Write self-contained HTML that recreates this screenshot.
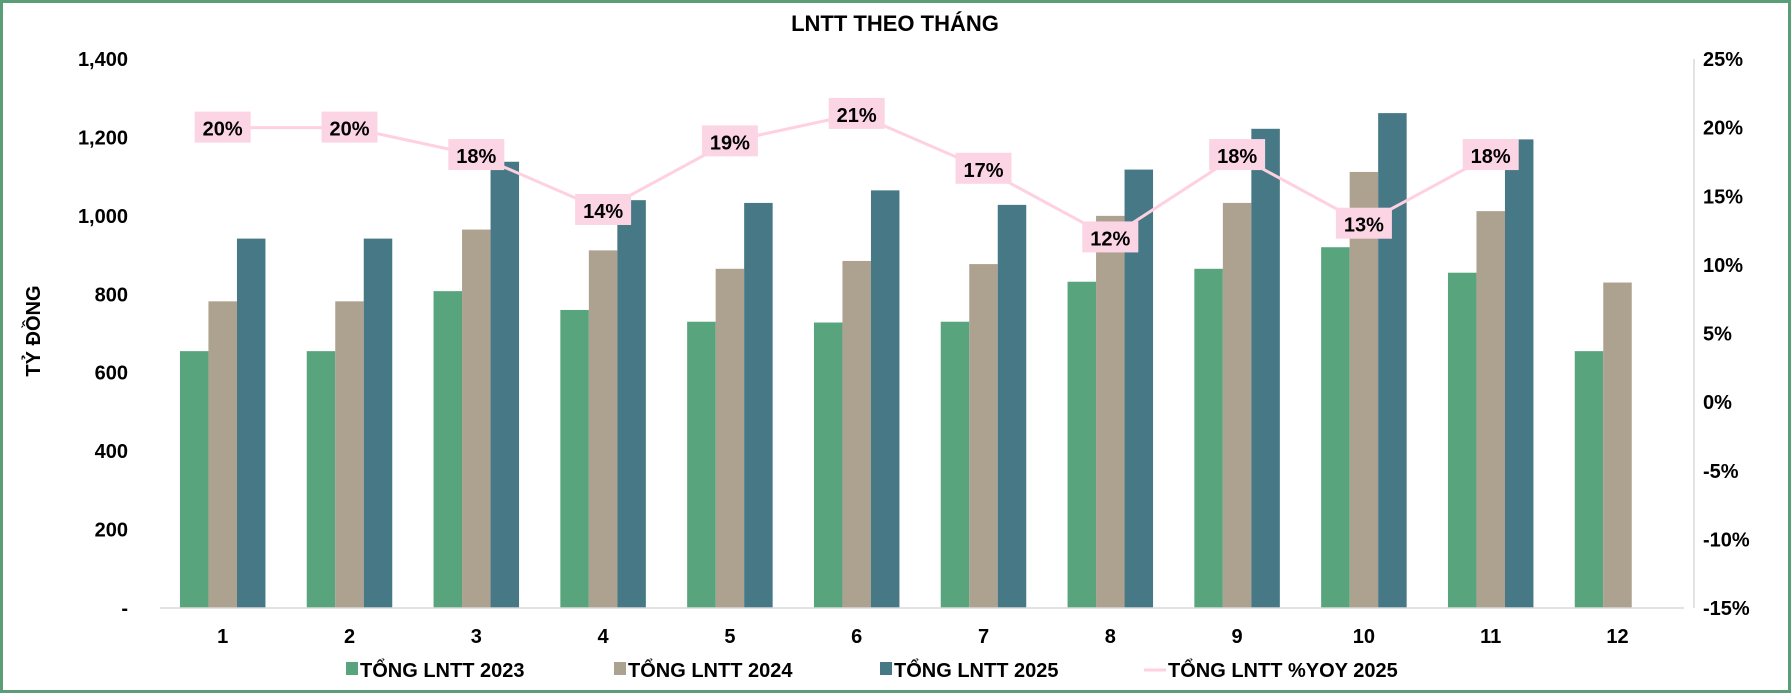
<!DOCTYPE html>
<html><head><meta charset="utf-8"><style>
html,body{margin:0;padding:0;background:#fff}
svg{display:block;font-family:"Liberation Sans",sans-serif;font-weight:bold}
</style></head><body>
<svg id="chart" width="1791" height="693" viewBox="0 0 1791 693">
<rect x="1.5" y="1.5" width="1788" height="690" fill="#fff" stroke="#5a9e78" stroke-width="3"/>
<text x="895" y="31" text-anchor="middle" font-size="22" fill="#000">LNTT THEO THÁNG</text>
<text transform="translate(40,331) rotate(-90)" text-anchor="middle" font-size="20" fill="#000">TỶ ĐỒNG</text>
<g id="bars"></g><g id="line"></g><g id="axes"></g>
<g id="legend"></g>
</svg>
<script>
const months=["1","2","3","4","5","6","7","8","9","10","11","12"];
const lntt2023=[655,655,808,760,730,728,730,832,865,920,855,655];
const lntt2024=[782,782,965,912,865,885,877,1000,1033,1112,1012,830];
const lntt2025=[942,942,1138,1040,1033,1065,1028,1118,1222,1262,1195,null];
const yoy2025=[20,20,18,14,19,21,17,12,18,13,18];
const leftTicks=[0,200,400,600,800,1000,1200,1400];
const leftTickLabels=["-","200","400","600","800","1,000","1,200","1,400"];
const rightTicks=[-15,-10,-5,0,5,10,15,20,25];

const NS="http://www.w3.org/2000/svg";
const plotTop=59,plotBot=608,plotLeft=160,plotRight=1692;
const yL=v=>plotBot-(v/1400)*(plotBot-plotTop);
const yR=v=>plotBot-((v+15)/40)*(plotBot-plotTop);
const gw=126.8;
const xC=i=>222.7+gw*i;
const bw=28.5;
function mk(tag,attrs,parent){const e=document.createElementNS(NS,tag);for(const k in attrs)e.setAttribute(k,attrs[k]);parent.appendChild(e);return e;}
const axesG=document.getElementById('axes'),barsG=document.getElementById('bars'),lineG=document.getElementById('line'),legendG=document.getElementById('legend');

let ax=mk('line',{x1:plotLeft,x2:plotRight-8,y1:plotBot,y2:plotBot,stroke:'#d9d9d9','stroke-width':1.5},axesG);


let ra=mk('line',{x1:1694,x2:1694,y1:plotTop,y2:plotBot,stroke:'#d9d9d9','stroke-width':1.5},axesG);



leftTicks.forEach((v,i)=>{const t=mk('text',{x:128,y:yL(v)+7,'text-anchor':'end','font-size':20,fill:'#000'},axesG);t.textContent=leftTickLabels[i];

});
rightTicks.forEach(v=>{const t=mk('text',{x:1703,y:yR(v)+7,'font-size':20,fill:'#000'},axesG);t.textContent=v+'%';

});
months.forEach((m,i)=>{const t=mk('text',{x:xC(i),y:643,'text-anchor':'middle','font-size':20,fill:'#000'},axesG);t.textContent=m;

});

const series=[[lntt2023,'#58a47c','bar-2023'],[lntt2024,'#ada190','bar-2024'],[lntt2025,'#477886','bar-2025']];
series.forEach((s,si)=>{s[0].forEach((v,i)=>{if(v==null)return;
const r=mk('rect',{x:xC(i)+(si-1)*bw-bw/2,y:yL(v),width:bw,height:plotBot-yL(v),fill:s[1]},barsG);

});});

const pts=yoy2025.map((v,i)=>xC(i)+','+yR(v)).join(' ');
const pl=mk('polyline',{points:pts,fill:'none',stroke:'#ffd0e0','stroke-width':3},lineG);


yoy2025.forEach((v,i)=>{const x=xC(i),y=yR(v);
const r=mk('rect',{x:x-28,y:y-16,width:56,height:31,fill:'#fcd5e4'},lineG);


const t=mk('text',{x:x,y:y+8,'text-anchor':'middle','font-size':20,fill:'#000'},lineG);t.textContent=v+'%';

});

const leg=[['sq','#58a47c','TỔNG LNTT 2023',346],['sq','#ada190','TỔNG LNTT 2024',614],['sq','#477886','TỔNG LNTT 2025',880],['ln','#ffd0e0','TỔNG LNTT %YOY 2025',1150]];
leg.forEach(l=>{let m;if(l[0]=='sq')m=mk('rect',{x:l[3],y:662,width:12,height:13,fill:l[1]},legendG);
else m=mk('line',{x1:l[3]-6,x2:l[3]+16,y1:670,y2:670,stroke:l[1],'stroke-width':3},legendG);


const t=mk('text',{x:l[3]+(l[0]=='sq'?14:18),y:677,'font-size':20,fill:'#000'},legendG);t.textContent=l[2];

});
</script>
</body></html>
